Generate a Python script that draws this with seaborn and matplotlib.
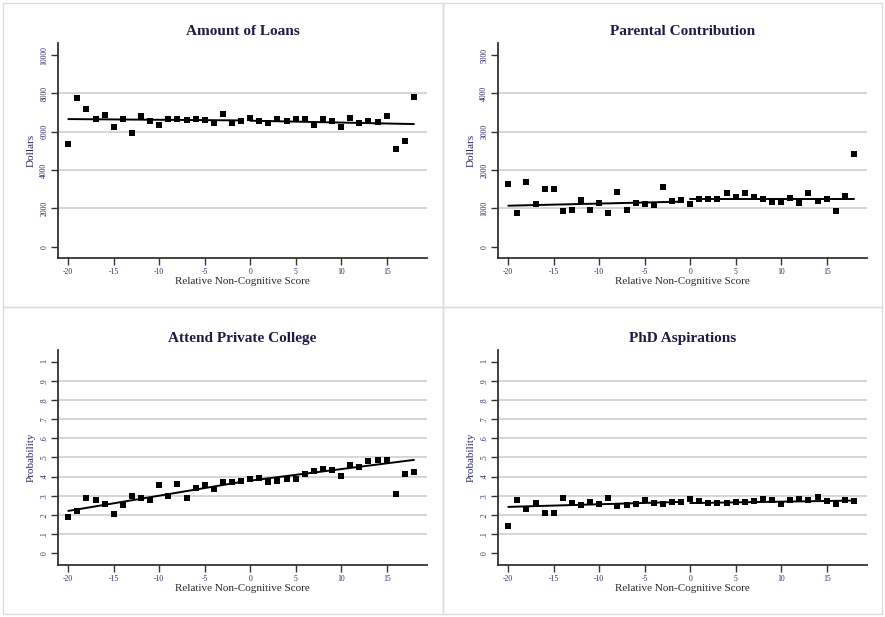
import numpy as np
import pandas as pd
import matplotlib
matplotlib.use("Agg")
import matplotlib.pyplot as plt
from matplotlib.patches import Rectangle
import seaborn as sns

sns.set_theme(style="white")
plt.rcParams["font.family"] = ["Liberation Serif", "DejaVu Serif"]

# ---------------- data ----------------
score = list(range(-20, 19))

loans = [5360, 7770, 7180, 6660, 6870, 6260, 6660, 5950, 6820, 6540,
         6370, 6640, 6640, 6610, 6680, 6610, 6440, 6920, 6440, 6560,
         6700, 6560, 6470, 6640, 6560, 6640, 6680, 6330, 6640, 6560,
         6230, 6700, 6440, 6540, 6490, 6820, 5110, 5530, 7830]

parental = [1630, 870, 1680, 1110, 1500, 1500, 930, 970, 1210, 970,
            1150, 870, 1430, 970, 1150, 1120, 1090, 1570, 1190, 1220,
            1110, 1250, 1250, 1250, 1410, 1300, 1410, 1300, 1250, 1170,
            1170, 1280, 1150, 1410, 1190, 1250, 930, 1320, 2420]

private = [.188, .221, .290, .280, .257, .203, .252, .299, .290, .280,
           .358, .299, .363, .290, .339, .358, .334, .374, .374, .379,
           .390, .395, .370, .379, .388, .388, .414, .428, .438, .433,
           .403, .459, .452, .480, .489, .489, .310, .414, .424]

phd = [.144, .278, .231, .261, .209, .209, .287, .261, .252, .266,
       .257, .287, .247, .252, .257, .278, .261, .256, .270, .270,
       .285, .273, .264, .264, .264, .268, .270, .275, .283, .278,
       .256, .278, .283, .280, .294, .275, .257, .280, .273]

# fitted lines (left of cutoff, right of cutoff): endpoints
fit_x_left = [-20, -1]
fit_x_right = [0, 18]
loans_fit_left = [6660, 6590]
loans_fit_right = [6575, 6400]
parental_fit_left = [1070, 1175]
parental_fit_right = [1243, 1243]
private_fit_left = [0.221, 0.372]
private_fit_right = [0.379, 0.487]
phd_fit_left = [0.242, 0.268]
phd_fit_right = [0.262, 0.275]

titles = ["Amount of Loans", "Parental Contribution",
          "Attend Private College", "PhD Aspirations"]
ylabels = ["Dollars", "Dollars", "Probability", "Probability"]
xlabel = "Relative Non-Cognitive Score"
x_ticks = [-20, -15, -10, -5, 0, 5, 10, 15]
loans_ticks = [0, 2000, 4000, 6000, 8000, 10000]
parental_ticks = [0, 1000, 2000, 3000, 4000, 5000]
prob_ticks = [0, .1, .2, .3, .4, .5, .6, .7, .8, .9, 1]
prob_ticklabels = ["0", ".1", ".2", ".3", ".4", ".5", ".6", ".7", ".8", ".9", "1"]

# ---------------- figure ----------------
W, H = 885, 617
fig = plt.figure(figsize=(W / 100, H / 100), dpi=100)
fig.patch.set_facecolor("white")

navy = "#2b2b66"
title_col = "#1c1c45"

def px_axes(l, t, r, b):
    return fig.add_axes([l / W, 1 - b / H, (r - l) / W, (b - t) / H])

# panel frames
for (x0, y0, x1, y1) in [(3, 3, 443, 307), (443, 3, 882, 307),
                         (3, 307, 443, 614), (443, 307, 882, 614)]:
    fig.add_artist(Rectangle((x0 / W, 1 - y1 / H), (x1 - x0) / W, (y1 - y0) / H,
                             transform=fig.transFigure, fill=False,
                             edgecolor="#dcdcdc", linewidth=1.0))

panels = [
    dict(pos=(58, 43, 427, 258), y=loans, fl=loans_fit_left, fr=loans_fit_right,
         ylim=(-590, 10630), ticks=loans_ticks, tl=[str(t) for t in loans_ticks]),
    dict(pos=(498, 43, 867, 258), y=parental, fl=parental_fit_left, fr=parental_fit_right,
         ylim=(-295, 5315), ticks=parental_ticks, tl=[str(t) for t in parental_ticks]),
    dict(pos=(58, 350, 427, 565), y=private, fl=private_fit_left, fr=private_fit_right,
         ylim=(-0.061, 1.06), ticks=prob_ticks, tl=prob_ticklabels),
    dict(pos=(498, 350, 867, 565), y=phd, fl=phd_fit_left, fr=phd_fit_right,
         ylim=(-0.061, 1.06), ticks=prob_ticks, tl=prob_ticklabels),
]

for i, p in enumerate(panels):
    ax = px_axes(*p["pos"])
    df = pd.DataFrame({"x": score, "y": p["y"]})
    # gridlines at interior ticks
    for t in p["ticks"][1:-1]:
        ax.axhline(t, color="#cfcfcf", lw=1.2, zorder=0)
    sns.lineplot(x=fit_x_left, y=p["fl"], ax=ax, color="black", lw=1.4, zorder=2)
    sns.lineplot(x=fit_x_right, y=p["fr"], ax=ax, color="black", lw=1.4, zorder=2)
    sns.scatterplot(data=df, x="x", y="y", ax=ax, marker="s", s=24,
                    color="black", edgecolor="black", linewidth=0, zorder=3)
    ax.set_xlim(-21.13, 19.44)
    ax.set_ylim(*p["ylim"])
    ax.set_xticks(x_ticks)
    ax.set_xticklabels([str(t) for t in x_ticks], fontsize=5.5, color=navy)
    ax.set_yticks(p["ticks"])
    ax.set_yticklabels(p["tl"], fontsize=5.5, color=navy, rotation=90, va="center")
    ax.tick_params(axis="both", direction="out", length=5, width=1.0,
                   color="#333333", pad=2, left=True, bottom=True)
    for s in ["top", "right"]:
        ax.spines[s].set_visible(False)
    for s in ["left", "bottom"]:
        ax.spines[s].set_color("#333333")
        ax.spines[s].set_linewidth(1.3)
    ax.set_facecolor("white")
    ax.set_title(titles[i], fontsize=11, fontweight="bold", color=title_col, pad=6)
    ax.set_xlabel(xlabel, fontsize=8, color="#2a2a2a", labelpad=1)
    ax.set_ylabel(ylabels[i], fontsize=8, color=navy, labelpad=3)

fig.savefig("out.png", dpi=100, facecolor="white")
